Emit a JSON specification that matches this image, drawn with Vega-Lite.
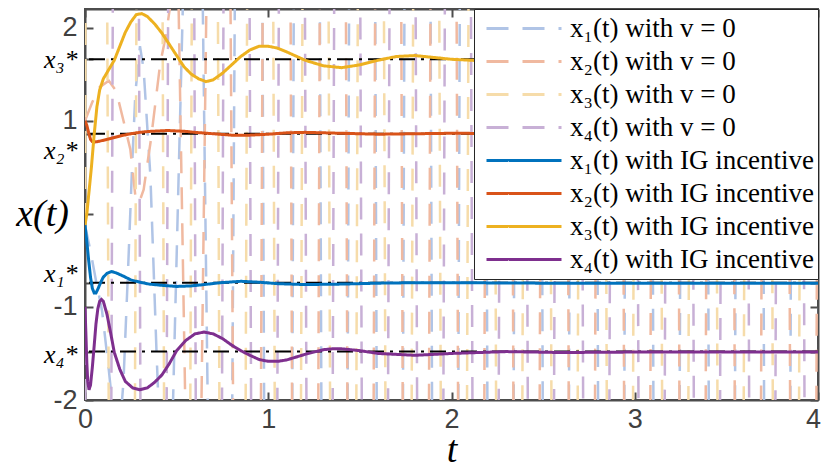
{
  "$schema": "https://vega.github.io/schema/vega-lite/v6.json",
  "width": 733,
  "height": 391,
  "autosize": {"type": "none"},
  "padding": {"left": 85, "top": 9, "right": 5, "bottom": 68},
  "background": "white",
  "config": {
    "view": {"stroke": "#4d4d4d", "strokeWidth": 2},
    "axis": {"grid": false, "domainColor": "#4d4d4d", "domainWidth": 2, "tickColor": "#4d4d4d", "tickWidth": 2, "tickSize": -8, "labelColor": "#404040", "labelFont": "Liberation Sans", "labelFontSize": 27, "labelOverlap": false, "labelFlush": false, "labelBound": false, "titleColor": "black", "titleFont": "Liberation Serif", "titleFontStyle": "italic", "titleFontWeight": "normal", "titleFontSize": 38},
    "legend": {"orient": "top-right", "offset": 0, "title": null, "symbolType": "stroke", "symbolSize": 5625, "symbolStrokeWidth": 3, "labelFont": "Liberation Serif", "labelFontSize": 27, "labelColor": "black", "labelLimit": 400, "strokeColor": "#262626", "fillColor": "white", "padding": 3, "clipHeight": 33, "rowPadding": 0, "symbolOffset": 8, "labelOffset": 7}
  },
  "datasets": {
    "ref": [{"y": 1.66}, {"y": 0.86}, {"y": -0.74}, {"y": -1.48}],
    "v0": [
      {"s": "a1", "t": 0, "y": -0.12}, {"s": "a1", "t": 0.03, "y": -0.4}, {"s": "a1", "t": 0.06, "y": -0.72}, {"s": "a1", "t": 0.093, "y": -1.04}, {"s": "a1", "t": 0.13, "y": -1.68}, {"s": "a1", "t": 0.16, "y": -2.25}, {"s": "a1", "t": 0.185, "y": -2.45}, {"s": "a1", "t": 0.21, "y": -1.8}, {"s": "a1", "t": 0.235, "y": -0.6}, {"s": "a1", "t": 0.257, "y": 0.51}, {"s": "a1", "t": 0.275, "y": 1.3}, {"s": "a1", "t": 0.3, "y": 1.8}, {"s": "a1", "t": 0.32, "y": 1.55}, {"s": "a1", "t": 0.357, "y": 0.4}, {"s": "a1", "t": 0.39, "y": -1.47}, {"s": "a1", "t": 0.42, "y": -3},
      {"s": "a1", "t": 0.4555, "y": -4}, {"s": "a1", "t": 0.6065, "y": 8}, {"s": "a1", "t": 0.7575, "y": -16}, {"s": "a1", "t": 0.9085, "y": 29.908}, {"s": "a1", "t": 1.0595, "y": -40.024}, {"s": "a1", "t": 1.2105, "y": 40.024}, {"s": "a1", "t": 1.3615, "y": -40.024}, {"s": "a1", "t": 1.5125, "y": 40.024}, {"s": "a1", "t": 1.6635, "y": -40.024}, {"s": "a1", "t": 1.8145, "y": 40.024}, {"s": "a1", "t": 1.9655, "y": -40.024}, {"s": "a1", "t": 2.1165, "y": 40.024}, {"s": "a1", "t": 2.2675, "y": -40.024}, {"s": "a1", "t": 2.4185, "y": 40.024}, {"s": "a1", "t": 2.5695, "y": -40.024}, {"s": "a1", "t": 2.7205, "y": 40.024}, {"s": "a1", "t": 2.8715, "y": -40.024}, {"s": "a1", "t": 3.0225, "y": 40.024}, {"s": "a1", "t": 3.1735, "y": -40.024}, {"s": "a1", "t": 3.3245, "y": 40.024}, {"s": "a1", "t": 3.4755, "y": -40.024}, {"s": "a1", "t": 3.6265, "y": 40.024}, {"s": "a1", "t": 3.7775, "y": -40.024}, {"s": "a1", "t": 3.9285, "y": 40.024}, {"s": "a1", "t": 4.0795, "y": -40.024},
      {"s": "a2", "t": 0, "y": 1.0}, {"s": "a2", "t": 0.04, "y": 1.2}, {"s": "a2", "t": 0.08, "y": 1.36}, {"s": "a2", "t": 0.13, "y": 1.43}, {"s": "a2", "t": 0.17, "y": 1.32}, {"s": "a2", "t": 0.21, "y": 1.0}, {"s": "a2", "t": 0.2475, "y": 0.69}, {"s": "a2", "t": 0.275, "y": 0.19}, {"s": "a2", "t": 0.295, "y": 0.12}, {"s": "a2", "t": 0.32, "y": 0.26}, {"s": "a2", "t": 0.36, "y": 0.8}, {"s": "a2", "t": 0.41, "y": 1.61}, {"s": "a2", "t": 0.44, "y": 1.9}, {"s": "a2", "t": 0.47, "y": 2.3}, {"s": "a2", "t": 0.5, "y": 3.5},
      {"s": "a2", "t": 0.598, "y": -8}, {"s": "a2", "t": 0.749, "y": 16}, {"s": "a2", "t": 0.9, "y": -30.053}, {"s": "a2", "t": 1.0505, "y": 40.024}, {"s": "a2", "t": 1.2015, "y": -40.024}, {"s": "a2", "t": 1.3525, "y": 40.024}, {"s": "a2", "t": 1.5035, "y": -40.024}, {"s": "a2", "t": 1.6545, "y": 40.024}, {"s": "a2", "t": 1.8055, "y": -40.024}, {"s": "a2", "t": 1.9565, "y": 40.024}, {"s": "a2", "t": 2.1075, "y": -40.024}, {"s": "a2", "t": 2.2585, "y": 40.024}, {"s": "a2", "t": 2.4095, "y": -40.024}, {"s": "a2", "t": 2.5605, "y": 40.024}, {"s": "a2", "t": 2.7115, "y": -40.024}, {"s": "a2", "t": 2.8625, "y": 40.024}, {"s": "a2", "t": 3.0135, "y": -40.024}, {"s": "a2", "t": 3.1645, "y": 40.024}, {"s": "a2", "t": 3.3155, "y": -40.024}, {"s": "a2", "t": 3.4665, "y": 40.024}, {"s": "a2", "t": 3.6175, "y": -40.024}, {"s": "a2", "t": 3.7685, "y": 40.024}, {"s": "a2", "t": 3.9195, "y": -40.024}, {"s": "a2", "t": 4.0705, "y": 40.024},
      {"s": "a3", "t": 0, "y": -0.12}, {"s": "a3", "t": 0.05, "y": 40.024}, {"s": "a3", "t": 0.201, "y": -40.024}, {"s": "a3", "t": 0.352, "y": 40.024}, {"s": "a3", "t": 0.503, "y": -40.024}, {"s": "a3", "t": 0.654, "y": 40.024}, {"s": "a3", "t": 0.805, "y": -40.024}, {"s": "a3", "t": 0.956, "y": 40.024}, {"s": "a3", "t": 1.107, "y": -40.024}, {"s": "a3", "t": 1.258, "y": 40.024}, {"s": "a3", "t": 1.409, "y": -40.024}, {"s": "a3", "t": 1.56, "y": 40.024}, {"s": "a3", "t": 1.711, "y": -40.024}, {"s": "a3", "t": 1.862, "y": 40.024}, {"s": "a3", "t": 2.013, "y": -40.024}, {"s": "a3", "t": 2.164, "y": 40.024}, {"s": "a3", "t": 2.315, "y": -40.024}, {"s": "a3", "t": 2.466, "y": 40.024}, {"s": "a3", "t": 2.617, "y": -40.024}, {"s": "a3", "t": 2.768, "y": 40.024}, {"s": "a3", "t": 2.919, "y": -40.024}, {"s": "a3", "t": 3.07, "y": 40.024}, {"s": "a3", "t": 3.221, "y": -40.024}, {"s": "a3", "t": 3.372, "y": 40.024}, {"s": "a3", "t": 3.523, "y": -40.024}, {"s": "a3", "t": 3.674, "y": 40.024}, {"s": "a3", "t": 3.825, "y": -40.024}, {"s": "a3", "t": 3.976, "y": 40.024}, {"s": "a3", "t": 4.127, "y": -40.024},
      {"s": "a4", "t": 0, "y": -1.0}, {"s": "a4", "t": 0.072, "y": -40.024}, {"s": "a4", "t": 0.223, "y": 40.024}, {"s": "a4", "t": 0.374, "y": -40.024}, {"s": "a4", "t": 0.525, "y": 40.024}, {"s": "a4", "t": 0.676, "y": -40.024}, {"s": "a4", "t": 0.827, "y": 40.024}, {"s": "a4", "t": 0.978, "y": -40.024}, {"s": "a4", "t": 1.129, "y": 40.024}, {"s": "a4", "t": 1.28, "y": -40.024}, {"s": "a4", "t": 1.431, "y": 40.024}, {"s": "a4", "t": 1.582, "y": -40.024}, {"s": "a4", "t": 1.733, "y": 40.024}, {"s": "a4", "t": 1.884, "y": -40.024}, {"s": "a4", "t": 2.035, "y": 40.024}, {"s": "a4", "t": 2.186, "y": -40.024}, {"s": "a4", "t": 2.337, "y": 40.024}, {"s": "a4", "t": 2.488, "y": -40.024}, {"s": "a4", "t": 2.639, "y": 40.024}, {"s": "a4", "t": 2.79, "y": -40.024}, {"s": "a4", "t": 2.941, "y": 40.024}, {"s": "a4", "t": 3.092, "y": -40.024}, {"s": "a4", "t": 3.243, "y": 40.024}, {"s": "a4", "t": 3.394, "y": -40.024}, {"s": "a4", "t": 3.545, "y": 40.024}, {"s": "a4", "t": 3.696, "y": -40.024}, {"s": "a4", "t": 3.847, "y": 40.024}, {"s": "a4", "t": 3.998, "y": -40.024}, {"s": "a4", "t": 4.149, "y": 40.024}
    ],
    "ig": [
      {"s": "b1", "t": 0, "y": -0.12}, {"s": "b1", "t": 0.01, "y": -0.3}, {"s": "b1", "t": 0.02, "y": -0.5}, {"s": "b1", "t": 0.03, "y": -0.68}, {"s": "b1", "t": 0.04, "y": -0.8}, {"s": "b1", "t": 0.05, "y": -0.85}, {"s": "b1", "t": 0.06, "y": -0.85}, {"s": "b1", "t": 0.07, "y": -0.81}, {"s": "b1", "t": 0.085, "y": -0.74}, {"s": "b1", "t": 0.1, "y": -0.68}, {"s": "b1", "t": 0.12, "y": -0.64}, {"s": "b1", "t": 0.145, "y": -0.62}, {"s": "b1", "t": 0.17, "y": -0.635}, {"s": "b1", "t": 0.21, "y": -0.67}, {"s": "b1", "t": 0.25, "y": -0.71}, {"s": "b1", "t": 0.3, "y": -0.735}, {"s": "b1", "t": 0.35, "y": -0.755}, {"s": "b1", "t": 0.43, "y": -0.77}, {"s": "b1", "t": 0.5, "y": -0.78}, {"s": "b1", "t": 0.575, "y": -0.775}, {"s": "b1", "t": 0.65, "y": -0.76}, {"s": "b1", "t": 0.74, "y": -0.74}, {"s": "b1", "t": 0.85, "y": -0.725}, {"s": "b1", "t": 0.95, "y": -0.735}, {"s": "b1", "t": 1.05, "y": -0.75}, {"s": "b1", "t": 1.2, "y": -0.76}, {"s": "b1", "t": 1.4, "y": -0.755}, {"s": "b1", "t": 1.6, "y": -0.745}, {"s": "b1", "t": 1.8, "y": -0.74}, {"s": "b1", "t": 2.0, "y": -0.74}, {"s": "b1", "t": 2.5, "y": -0.745}, {"s": "b1", "t": 3, "y": -0.745}, {"s": "b1", "t": 4, "y": -0.745},
      {"s": "b2", "t": 0, "y": 1.0}, {"s": "b2", "t": 0.01, "y": 0.95}, {"s": "b2", "t": 0.02, "y": 0.87}, {"s": "b2", "t": 0.03, "y": 0.8}, {"s": "b2", "t": 0.04, "y": 0.775}, {"s": "b2", "t": 0.05, "y": 0.77}, {"s": "b2", "t": 0.08, "y": 0.78}, {"s": "b2", "t": 0.12, "y": 0.8}, {"s": "b2", "t": 0.16, "y": 0.82}, {"s": "b2", "t": 0.2, "y": 0.84}, {"s": "b2", "t": 0.25, "y": 0.86}, {"s": "b2", "t": 0.3, "y": 0.875}, {"s": "b2", "t": 0.35, "y": 0.885}, {"s": "b2", "t": 0.4, "y": 0.89}, {"s": "b2", "t": 0.45, "y": 0.895}, {"s": "b2", "t": 0.5, "y": 0.89}, {"s": "b2", "t": 0.55, "y": 0.885}, {"s": "b2", "t": 0.6, "y": 0.875}, {"s": "b2", "t": 0.7, "y": 0.86}, {"s": "b2", "t": 0.8, "y": 0.845}, {"s": "b2", "t": 0.9, "y": 0.845}, {"s": "b2", "t": 1.0, "y": 0.855}, {"s": "b2", "t": 1.1, "y": 0.87}, {"s": "b2", "t": 1.2, "y": 0.875}, {"s": "b2", "t": 1.4, "y": 0.865}, {"s": "b2", "t": 1.6, "y": 0.855}, {"s": "b2", "t": 1.8, "y": 0.86}, {"s": "b2", "t": 2.0, "y": 0.865}, {"s": "b2", "t": 2.5, "y": 0.86}, {"s": "b2", "t": 3, "y": 0.86}, {"s": "b2", "t": 4, "y": 0.86},
      {"s": "b3", "t": 0, "y": -0.12}, {"s": "b3", "t": 0.01, "y": 0.0}, {"s": "b3", "t": 0.02, "y": 0.2}, {"s": "b3", "t": 0.035, "y": 0.5}, {"s": "b3", "t": 0.05, "y": 0.85}, {"s": "b3", "t": 0.065, "y": 1.15}, {"s": "b3", "t": 0.08, "y": 1.33}, {"s": "b3", "t": 0.1, "y": 1.45}, {"s": "b3", "t": 0.13, "y": 1.55}, {"s": "b3", "t": 0.16, "y": 1.65}, {"s": "b3", "t": 0.19, "y": 1.8}, {"s": "b3", "t": 0.22, "y": 1.95}, {"s": "b3", "t": 0.25, "y": 2.06}, {"s": "b3", "t": 0.28, "y": 2.14}, {"s": "b3", "t": 0.31, "y": 2.15}, {"s": "b3", "t": 0.34, "y": 2.12}, {"s": "b3", "t": 0.38, "y": 2.04}, {"s": "b3", "t": 0.42, "y": 1.94}, {"s": "b3", "t": 0.46, "y": 1.82}, {"s": "b3", "t": 0.5, "y": 1.7}, {"s": "b3", "t": 0.54, "y": 1.58}, {"s": "b3", "t": 0.58, "y": 1.5}, {"s": "b3", "t": 0.62, "y": 1.45}, {"s": "b3", "t": 0.66, "y": 1.42}, {"s": "b3", "t": 0.7, "y": 1.44}, {"s": "b3", "t": 0.75, "y": 1.51}, {"s": "b3", "t": 0.8, "y": 1.6}, {"s": "b3", "t": 0.85, "y": 1.69}, {"s": "b3", "t": 0.9, "y": 1.76}, {"s": "b3", "t": 0.95, "y": 1.8}, {"s": "b3", "t": 1.0, "y": 1.8}, {"s": "b3", "t": 1.05, "y": 1.78}, {"s": "b3", "t": 1.1, "y": 1.74}, {"s": "b3", "t": 1.2, "y": 1.65}, {"s": "b3", "t": 1.3, "y": 1.59}, {"s": "b3", "t": 1.4, "y": 1.57}, {"s": "b3", "t": 1.5, "y": 1.6}, {"s": "b3", "t": 1.6, "y": 1.65}, {"s": "b3", "t": 1.7, "y": 1.69}, {"s": "b3", "t": 1.8, "y": 1.7}, {"s": "b3", "t": 1.9, "y": 1.68}, {"s": "b3", "t": 2.0, "y": 1.66}, {"s": "b3", "t": 2.2, "y": 1.64}, {"s": "b3", "t": 2.5, "y": 1.66}, {"s": "b3", "t": 3, "y": 1.66}, {"s": "b3", "t": 4, "y": 1.66},
      {"s": "b4", "t": 0, "y": -1.0}, {"s": "b4", "t": 0.005, "y": -1.3}, {"s": "b4", "t": 0.01, "y": -1.6}, {"s": "b4", "t": 0.015, "y": -1.8}, {"s": "b4", "t": 0.022, "y": -1.89}, {"s": "b4", "t": 0.03, "y": -1.84}, {"s": "b4", "t": 0.04, "y": -1.65}, {"s": "b4", "t": 0.05, "y": -1.42}, {"s": "b4", "t": 0.06, "y": -1.18}, {"s": "b4", "t": 0.07, "y": -1.02}, {"s": "b4", "t": 0.08, "y": -0.94}, {"s": "b4", "t": 0.09, "y": -0.92}, {"s": "b4", "t": 0.1, "y": -0.94}, {"s": "b4", "t": 0.12, "y": -1.08}, {"s": "b4", "t": 0.14, "y": -1.28}, {"s": "b4", "t": 0.16, "y": -1.49}, {"s": "b4", "t": 0.19, "y": -1.67}, {"s": "b4", "t": 0.22, "y": -1.8}, {"s": "b4", "t": 0.26, "y": -1.87}, {"s": "b4", "t": 0.3, "y": -1.89}, {"s": "b4", "t": 0.34, "y": -1.87}, {"s": "b4", "t": 0.38, "y": -1.81}, {"s": "b4", "t": 0.42, "y": -1.73}, {"s": "b4", "t": 0.46, "y": -1.61}, {"s": "b4", "t": 0.5, "y": -1.47}, {"s": "b4", "t": 0.55, "y": -1.36}, {"s": "b4", "t": 0.6, "y": -1.29}, {"s": "b4", "t": 0.65, "y": -1.27}, {"s": "b4", "t": 0.7, "y": -1.29}, {"s": "b4", "t": 0.75, "y": -1.34}, {"s": "b4", "t": 0.8, "y": -1.41}, {"s": "b4", "t": 0.85, "y": -1.47}, {"s": "b4", "t": 0.9, "y": -1.52}, {"s": "b4", "t": 0.95, "y": -1.565}, {"s": "b4", "t": 1.0, "y": -1.585}, {"s": "b4", "t": 1.05, "y": -1.585}, {"s": "b4", "t": 1.1, "y": -1.57}, {"s": "b4", "t": 1.2, "y": -1.51}, {"s": "b4", "t": 1.3, "y": -1.46}, {"s": "b4", "t": 1.35, "y": -1.45}, {"s": "b4", "t": 1.4, "y": -1.45}, {"s": "b4", "t": 1.5, "y": -1.47}, {"s": "b4", "t": 1.6, "y": -1.5}, {"s": "b4", "t": 1.8, "y": -1.52}, {"s": "b4", "t": 2.0, "y": -1.5}, {"s": "b4", "t": 2.3, "y": -1.48}, {"s": "b4", "t": 2.6, "y": -1.49}, {"s": "b4", "t": 3, "y": -1.485}, {"s": "b4", "t": 4, "y": -1.485}
    ]
  },
  "layer": [
    {
      "data": {"name": "v0"},
      "mark": {"type": "line", "clip": true, "strokeWidth": 2.5},
      "encoding": {
        "x": {"field": "t", "type": "quantitative", "scale": {"domain": [0, 4], "nice": false, "zero": false},
          "axis": {"values": [0, 1, 2, 3, 4], "format": "d", "title": "t", "titleY": 50, "titleBaseline": "middle", "labelPadding": 14,
            "labelOffset": {"condition": {"test": "datum.value == 4", "value": -5}, "value": 0}}},
        "y": {"field": "y", "type": "quantitative", "scale": {"domain": [-2, 2.2], "nice": false, "zero": false},
          "axis": {"values": [-2, -1.48, -1, -0.74, 0, 0.86, 1, 1.66, 2],
            "labelExpr": "datum.value == 2 ? '2' : datum.value == 1 ? '1' : datum.value == -1 ? '-1' : datum.value == -2 ? '-2' : datum.value == 1.66 ? 'x₃*' : datum.value == 0.86 ? 'x₂*' : datum.value == -0.74 ? 'x₁*' : datum.value == -1.48 ? 'x₄*' : ''",
            "labelFont": {"condition": {"test": "abs(datum.value) != 1 && abs(datum.value) != 2 && datum.value != 0", "value": "Liberation Serif"}, "value": "Liberation Sans"},
            "labelFontStyle": {"condition": {"test": "abs(datum.value) != 1 && abs(datum.value) != 2 && datum.value != 0", "value": "italic"}, "value": "normal"},
            "labelFontSize": {"condition": {"test": "abs(datum.value) != 1 && abs(datum.value) != 2 && datum.value != 0", "value": 26}, "value": 27},
            "labelColor": {"condition": {"test": "abs(datum.value) != 1 && abs(datum.value) != 2 && datum.value != 0", "value": "black"}, "value": "#404040"},
            "labelOffset": {"condition": [{"test": "datum.value == 0.86", "value": 17}, {"test": "datum.value == -0.74", "value": -9}, {"test": "datum.value == -1.48", "value": 3}], "value": 0},
            "labelPadding": 16,
            "title": "x(t)", "titleAngle": 0, "titleX": -43, "titleY": 205, "titleAlign": "center", "titleBaseline": "middle"}},
        "color": {"field": "s", "type": "nominal",
          "scale": {"domain": ["a1", "a2", "a3", "a4", "b1", "b2", "b3", "b4"], "range": ["#b0c4e6", "#f0b9a0", "#f6dcaa", "#c8b0d6", "#0072bd", "#d95319", "#edb120", "#7e2f8e"]},
          "legend": {"labelExpr": "['x₁(t) with v = 0','x₂(t) with v = 0','x₃(t) with v = 0','x₄(t) with v = 0','x₁(t) with IG incentive','x₂(t) with IG incentive','x₃(t) with IG incentive','x₄(t) with IG incentive'][indexof(['a1','a2','a3','a4','b1','b2','b3','b4'], datum.value)]"}},
        "strokeDash": {"field": "s", "type": "nominal",
          "scale": {"domain": ["a1", "a2", "a3", "a4", "b1", "b2", "b3", "b4"], "range": [[22, 14], [22, 14], [22, 14], [22, 14], [1, 0], [1, 0], [1, 0], [1, 0]]},
          "legend": {"labelExpr": "['x₁(t) with v = 0','x₂(t) with v = 0','x₃(t) with v = 0','x₄(t) with v = 0','x₁(t) with IG incentive','x₂(t) with IG incentive','x₃(t) with IG incentive','x₄(t) with IG incentive'][indexof(['a1','a2','a3','a4','b1','b2','b3','b4'], datum.value)]"}}
      }
    },
    {
      "data": {"name": "ref"},
      "mark": {"type": "rule", "stroke": "black", "strokeWidth": 2, "strokeDash": [16, 6, 3, 6]},
      "encoding": {"y": {"field": "y", "type": "quantitative", "axis": null}}
    },
    {
      "data": {"name": "ig"},
      "mark": {"type": "line", "clip": true, "strokeWidth": 3},
      "encoding": {
        "x": {"field": "t", "type": "quantitative", "axis": {"orient": "top", "labels": false, "title": null, "values": [0, 1, 2, 3, 4]}},
        "y": {"field": "y", "type": "quantitative", "axis": {"orient": "right", "labels": false, "title": null, "values": [-2, -1.48, -1, -0.74, 0, 0.86, 1, 1.66, 2]}},
        "color": {"field": "s", "type": "nominal",
          "scale": {"domain": ["a1", "a2", "a3", "a4", "b1", "b2", "b3", "b4"], "range": ["#b0c4e6", "#f0b9a0", "#f6dcaa", "#c8b0d6", "#0072bd", "#d95319", "#edb120", "#7e2f8e"]},
          "legend": {"labelExpr": "['x₁(t) with v = 0','x₂(t) with v = 0','x₃(t) with v = 0','x₄(t) with v = 0','x₁(t) with IG incentive','x₂(t) with IG incentive','x₃(t) with IG incentive','x₄(t) with IG incentive'][indexof(['a1','a2','a3','a4','b1','b2','b3','b4'], datum.value)]"}},
        "strokeDash": {"field": "s", "type": "nominal",
          "scale": {"domain": ["a1", "a2", "a3", "a4", "b1", "b2", "b3", "b4"], "range": [[22, 14], [22, 14], [22, 14], [22, 14], [1, 0], [1, 0], [1, 0], [1, 0]]},
          "legend": {"labelExpr": "['x₁(t) with v = 0','x₂(t) with v = 0','x₃(t) with v = 0','x₄(t) with v = 0','x₁(t) with IG incentive','x₂(t) with IG incentive','x₃(t) with IG incentive','x₄(t) with IG incentive'][indexof(['a1','a2','a3','a4','b1','b2','b3','b4'], datum.value)]"}}
      }
    }
  ],
  "resolve": {"axis": {"x": "independent", "y": "independent"}}
}
